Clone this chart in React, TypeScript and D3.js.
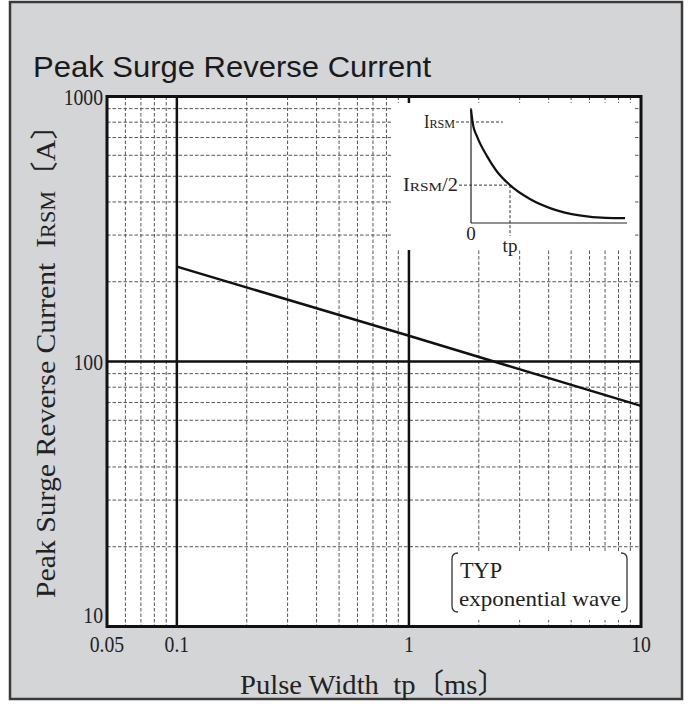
import React, { useRef, useEffect } from 'react';
import * as d3 from 'd3';

// 軸の目盛り
const xTickValues = [0.05, 0.1, 1, 10];
const xTickLabels = ['0.05', '0.1', '1', '10'];
const yTickValues = [1000, 100, 10];
const yTickLabels = ['1000', '100', '10'];
const xMajor = [0.1, 1];
const yMajor = [100];
const xMinor = [0.06, 0.07, 0.08, 0.09, 0.2, 0.3, 0.4, 0.5, 0.6, 0.7, 0.8, 0.9, 2, 3, 4, 5, 6, 7, 8, 9];
const yMinor = [20, 30, 40, 50, 60, 70, 80, 90, 200, 300, 400, 500, 600, 700, 800, 900];

// 特性曲線 (tp [ms] -> IRSM [A])
const pulseWidth = [0.1, 1, 10];
const surgeCurrent = [228, 125, 68];

// 挿入図の波形 (t/tp -> I/IRSM)
const waveT = [0, 0.05, 0.154, 0.41, 0.66, 1, 1.51, 2.1, 2.78, 3.46, 3.95];
const waveI = [1.1, 0.98, 0.887, 0.73, 0.61, 0.5, 0.39, 0.31, 0.26, 0.24, 0.238];

const serif = "'Liberation Serif', 'Noto Sans CJK JP', serif";

// 明朝体風に横幅を詰める
const condense = (sel: d3.Selection<SVGTextElement, any, any, any>, k: number) => {
  sel.each(function () {
    const w = (this as SVGTextElement).getComputedTextLength();
    d3.select(this).attr('textLength', w * k).attr('lengthAdjust', 'spacingAndGlyphs');
  });
};

const App: React.FC = () => {
  const svgRef = useRef<SVGSVGElement | null>(null);
  const W = 692;
  const H = 704;

  useEffect(() => {
    if (!svgRef.current) return;
    const root = d3.select(svgRef.current);
    root.selectAll('*').remove();

    const left = 107, right = 641, top = 96.5, bottom = 626.5;

    const x = d3.scaleLog().domain([0.05, 10]).range([left, right]);
    const y = d3.scaleLog().domain([10, 1000]).range([bottom, top]);

    // 外枠
    root.append('rect')
      .attr('x', 10).attr('y', 2).attr('width', 672).attr('height', 697)
      .attr('fill', '#d3d5d7').attr('stroke', '#3a3a3a').attr('stroke-width', 2.5);

    // タイトル
    root.append('text')
      .attr('x', 33).attr('y', 77)
      .attr('font-family', "'Liberation Sans', Arial, sans-serif")
      .attr('font-size', 30)
      .attr('textLength', 398).attr('lengthAdjust', 'spacingAndGlyphs')
      .attr('fill', '#1a1a1a')
      .text('Peak Surge Reverse Current');

    // プロット背景
    root.append('rect')
      .attr('x', left).attr('y', top).attr('width', right - left).attr('height', bottom - top)
      .attr('fill', '#fff');

    const grid = root.append('g')
      .attr('stroke', '#555').attr('stroke-width', 1).attr('stroke-dasharray', '3.5,2');

    grid.selectAll('.vx').data(xMinor).enter().append('line')
      .attr('x1', d => x(d)).attr('x2', d => x(d)).attr('y1', top).attr('y2', bottom);
    grid.selectAll('.hy').data(yMinor).enter().append('line')
      .attr('x1', left).attr('x2', right).attr('y1', d => y(d)).attr('y2', d => y(d));

    root.selectAll('.mx').data(xMajor).enter().append('line')
      .attr('x1', d => x(d)).attr('x2', d => x(d)).attr('y1', top).attr('y2', bottom)
      .attr('stroke', '#111').attr('stroke-width', 2.5);
    root.selectAll('.my').data(yMajor).enter().append('line')
      .attr('x1', left).attr('x2', right).attr('y1', d => y(d)).attr('y2', d => y(d))
      .attr('stroke', '#111').attr('stroke-width', 2.5);

    // 特性曲線
    const line = d3.line<number>()
      .x((_, i) => x(pulseWidth[i]))
      .y(d => y(d));
    root.append('path')
      .datum(surgeCurrent)
      .attr('d', line)
      .attr('fill', 'none').attr('stroke', '#111').attr('stroke-width', 2.5);

    // 挿入図
    root.append('rect')
      .attr('x', 392).attr('y', 103).attr('width', 241).attr('height', 147)
      .attr('fill', '#fff');

    const ix = d3.scaleLinear().domain([0, 4]).range([471, 627]);
    const iy = d3.scaleLinear().domain([0.2, 1]).range([223, 122]);
    const inset = root.append('g');

    inset.append('line')
      .attr('x1', ix(0)).attr('x2', ix(0)).attr('y1', iy(1.11)).attr('y2', iy(0.2))
      .attr('stroke', '#222').attr('stroke-width', 1.2);
    inset.append('line')
      .attr('x1', ix(0)).attr('x2', ix(4)).attr('y1', iy(0.2)).attr('y2', iy(0.2))
      .attr('stroke', '#222').attr('stroke-width', 1.2);

    const dash = inset.append('g')
      .attr('stroke', '#333').attr('stroke-width', 1).attr('stroke-dasharray', '3,2');
    dash.append('line')
      .attr('x1', 456).attr('x2', ix(0.82)).attr('y1', iy(1)).attr('y2', iy(1));
    dash.append('line')
      .attr('x1', 459).attr('x2', ix(1)).attr('y1', iy(0.5)).attr('y2', iy(0.5));
    dash.append('line')
      .attr('x1', ix(1)).attr('x2', ix(1)).attr('y1', iy(0.5)).attr('y2', 236);

    const wave = d3.line<number>()
      .x((_, i) => ix(waveT[i]))
      .y(d => iy(d))
      .curve(d3.curveMonotoneX);
    inset.append('path')
      .datum(waveI)
      .attr('d', wave)
      .attr('fill', 'none').attr('stroke', '#111').attr('stroke-width', 2.2);

    const irsm = (t: d3.Selection<SVGTextElement, unknown, null, undefined>, suffix: string) => {
      t.append('tspan').text('I');
      t.append('tspan').attr('font-size', 13.5).text('RSM');
      if (suffix) t.append('tspan').text(suffix);
    };
    const l1 = inset.append('text')
      .attr('x', 455).attr('y', iy(1)).attr('dy', '0.35em')
      .attr('text-anchor', 'end').attr('font-family', serif).attr('font-size', 18).attr('fill', '#222')
      .attr('textLength', 31).attr('lengthAdjust', 'spacingAndGlyphs');
    irsm(l1, '');
    const l2 = inset.append('text')
      .attr('x', 458).attr('y', iy(0.5)).attr('dy', '0.35em')
      .attr('text-anchor', 'end').attr('font-family', serif).attr('font-size', 18).attr('fill', '#222')
      .attr('textLength', 55).attr('lengthAdjust', 'spacingAndGlyphs');
    irsm(l2, '/2');
    inset.append('text')
      .attr('x', ix(0)).attr('y', 233).attr('dy', '0.35em')
      .attr('text-anchor', 'middle').attr('font-family', serif).attr('font-size', 19).attr('fill', '#222')
      .text('0');
    inset.append('text')
      .attr('x', ix(1)).attr('y', 245).attr('dy', '0.35em')
      .attr('text-anchor', 'middle').attr('font-family', serif).attr('font-size', 19).attr('fill', '#222')
      .text('tp');

    // TYP 注記
    root.append('rect')
      .attr('x', 445).attr('y', 552).attr('width', 189).attr('height', 68)
      .attr('fill', '#fff');
    root.append('path')
      .attr('d', 'M458,553 Q452,553 452,559 V606 Q452,612 458,612 M621,553 Q627,553 627,559 V606 Q627,612 621,612')
      .attr('fill', 'none').attr('stroke', '#333').attr('stroke-width', 1.3);
    root.append('text')
      .attr('x', 460).attr('y', 570).attr('dy', '0.35em')
      .attr('font-family', serif).attr('font-size', 23).attr('fill', '#222')
      .attr('textLength', 42).attr('lengthAdjust', 'spacingAndGlyphs')
      .text('TYP');
    root.append('text')
      .attr('x', 459).attr('y', 598).attr('dy', '0.35em')
      .attr('font-family', serif).attr('font-size', 22).attr('fill', '#222')
      .attr('textLength', 162).attr('lengthAdjust', 'spacingAndGlyphs')
      .text('exponential wave');

    // プロット枠
    root.append('rect')
      .attr('x', left).attr('y', top).attr('width', right - left).attr('height', bottom - top)
      .attr('fill', 'none').attr('stroke', '#111').attr('stroke-width', 3);

    // 目盛りラベル
    const xl = root.selectAll<SVGTextElement, number>('.xl').data(xTickValues).enter().append('text')
      .attr('x', d => x(d)).attr('y', 644).attr('dy', '0.35em')
      .attr('text-anchor', 'middle').attr('font-family', serif).attr('font-size', 24).attr('fill', '#222')
      .text((_, i) => xTickLabels[i]);
    condense(xl, 0.82);
    const yl = root.selectAll<SVGTextElement, number>('.yl').data(yTickValues).enter().append('text')
      .attr('x', 103).attr('y', d => (d === 10 ? y(d) - 12 : y(d))).attr('dy', '0.35em')
      .attr('text-anchor', 'end').attr('font-family', serif).attr('font-size', 24).attr('fill', '#222')
      .text((_, i) => yTickLabels[i]);
    condense(yl, 0.82);

    // 軸タイトル
    root.append('text')
      .attr('x', 373).attr('y', 684).attr('dy', '0.35em')
      .attr('text-anchor', 'middle').attr('font-family', serif).attr('font-size', 28).attr('fill', '#222')
      .attr('textLength', 266).attr('lengthAdjust', 'spacingAndGlyphs')
      .style('white-space', 'pre')
      .text('Pulse Width  tp〔ms〕');

    const yt = root.append('text')
      .attr('transform', 'translate(45,354) rotate(-90)')
      .attr('dy', '0.35em')
      .attr('text-anchor', 'middle').attr('font-family', serif).attr('font-size', 28).attr('fill', '#222')
      .attr('textLength', 488).attr('lengthAdjust', 'spacingAndGlyphs')
      .style('white-space', 'pre');
    yt.append('tspan').text('Peak Surge Reverse Current  I');
    yt.append('tspan').attr('font-size', 21).text('RSM');
    yt.append('tspan').text('〔A〕');
  }, []);

  return (
    <div style={{ position: 'absolute', left: 0, top: 0 }}>
      <svg ref={svgRef} width={W} height={H} style={{ display: 'block', background: '#fff' }}></svg>
    </div>
  );
};

export default App;
